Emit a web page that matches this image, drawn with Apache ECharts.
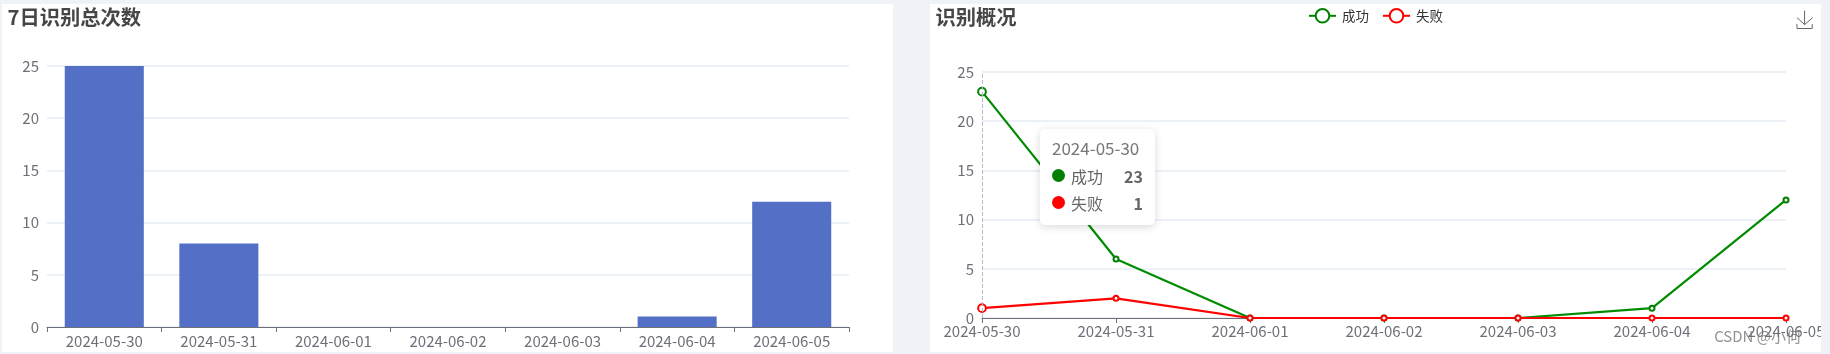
<!DOCTYPE html>
<html><head><meta charset="utf-8">
<style>
html,body{margin:0;padding:0;background:#eff3f7;width:1830px;height:354px;overflow:hidden}
.panel{position:absolute;background:#fff;top:4px;height:348px}
#a{left:2px;width:891px}
#b{left:930px;width:891px}
</style>
<script src="https://cdn.jsdelivr.net/npm/echarts@6/dist/echarts.min.js"></script>
</head><body>
<div id="a" class="panel"></div><div id="b" class="panel"></div>
<script>
const categories=['2024-05-30','2024-05-31','2024-06-01','2024-06-02','2024-06-03','2024-06-04','2024-06-05'];
const totals=[25,8,0,0,0,1,12];
const success=[23,6,0,0,0,1,12];
const failed=[1,2,0,0,0,0,0];
const yTicks={min:0,max:25,interval:5};
const font='"Noto Sans CJK SC","Noto Sans",sans-serif';
const title=t=>({text:t,left:5.5,top:3,padding:0,textStyle:{fontFamily:font,fontSize:20.3,fontWeight:'bold',color:'#464646'}});
const axisLabel={color:'#6e7079',fontSize:15,fontFamily:font};
const yAxis={type:'value',...yTicks,axisLabel:{...axisLabel},splitLine:{lineStyle:{color:'#e6ebf5',width:1.5}}};
const axisLine={show:true,lineStyle:{color:'#6e7079'}};
const axisTick={show:true,length:5,lineStyle:{color:'#6e7079'}};

const A=echarts.init(document.getElementById('a'));
A.setOption({animation:false,title:title('7日识别总次数'),
 grid:{left:45,right:44,top:62,bottom:25,outerBoundsMode:'none'},
 xAxis:{type:'category',data:categories,axisLabel:{...axisLabel,margin:7},axisLine,axisTick},
 yAxis,
 series:[{type:'bar',data:totals,barWidth:'69%',itemStyle:{color:'#5470c6'}}]});

const hollow=c=>({symbol:'emptyCircle',symbolSize:5,showSymbol:true,itemStyle:{color:c,borderWidth:2},lineStyle:{color:c,width:2.2}});
const marked=vals=>vals.map((v,i)=>i===0?{value:v,symbolSize:7}:v);
const tip=ps=>{
 const row=p=>`<div style="display:flex;align-items:center;height:27px"><span style="width:13px;height:13px;border-radius:50%;background:${p.color};margin-right:6px"></span><span style="flex:1">${p.seriesName}</span><b style="margin-left:21px">${p.value}</b></div>`;
 return `<div style="font-size:17px;line-height:26px;margin-bottom:1px;color:#777">${ps[0].axisValue}</div>`+ps.map(row).join('');
};
const B=echarts.init(document.getElementById('b'));
B.setOption({animation:false,title:title('识别概况'),
 legend:{top:-1,left:373,itemGap:13,itemWidth:27,itemHeight:17,textStyle:{fontFamily:font,fontSize:13.5,color:'#333',padding:[0,0,0,1]},data:['成功','失败']},
 toolbox:{right:6,top:4,padding:0,itemSize:18,feature:{saveAsImage:{title:''}},iconStyle:{borderColor:'#666'}},
 tooltip:{trigger:'axis',alwaysShowContent:true,
  position:()=>[110,125],formatter:tip,
  backgroundColor:'#fff',borderWidth:0,padding:[6,12,9,12],
  extraCssText:'box-shadow:0 2px 8px rgba(0,0,0,0.15);border-radius:5px;',
  axisPointer:{type:'line',lineStyle:{color:'#b6b9c7',type:'dashed'}},
  textStyle:{fontFamily:font,fontSize:16,color:'#666'}},
 grid:{left:52,right:35,top:68,bottom:34,outerBoundsMode:'none'},
 xAxis:{type:'category',boundaryGap:false,data:categories,axisLabel:{...axisLabel,margin:6,showMaxLabel:true},axisLine,axisTick},
 yAxis,
 graphic:[{type:'text',right:20,bottom:8,z:100,style:{text:'CSDN @小何',fontFamily:font,fontSize:15,fill:'rgba(110,110,110,0.75)'}}],
 series:[
  {name:'成功',type:'line',data:marked(success),...hollow('#008000')},
  {name:'失败',type:'line',data:marked(failed),...hollow('#ff0000')}
 ]});
B.dispatchAction({type:'showTip',seriesIndex:0,dataIndex:0});
</script></body></html>
